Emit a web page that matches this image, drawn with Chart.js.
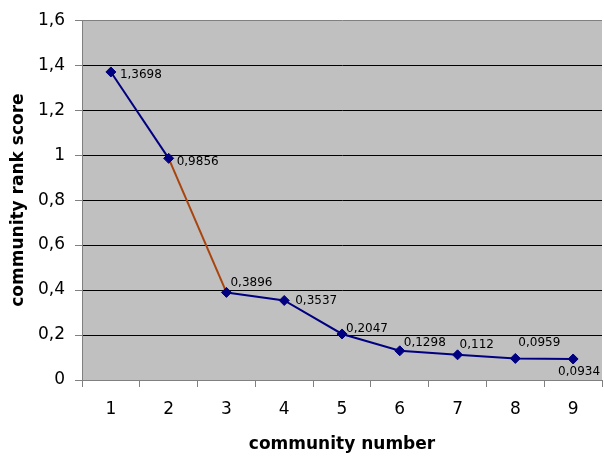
<!DOCTYPE html>
<html>
<head>
<meta charset="utf-8">
<script src="https://cdn.jsdelivr.net/npm/chart.js@4.4.1/dist/chart.umd.min.js"></script>
<style>
  html, body { margin: 0; padding: 0; background: #fff; overflow: hidden; width: 604px; height: 456px; }
  canvas { display: block; }
</style>
</head>
<body>
<canvas id="c" width="608" height="456"></canvas>
<script>
// Community numbers and their rank scores
const communities = ['1', '2', '3', '4', '5', '6', '7', '8', '9'];
const rankScores = [1.3698, 0.9856, 0.3896, 0.3537, 0.2047, 0.1298, 0.112, 0.0959, 0.0934];
const yTickLabels = ['0', '0,2', '0,4', '0,6', '0,8', '1', '1,2', '1,4', '1,6'];

// Segment drawn in brown (from community 2 to community 3)
const brownSegment = 1;

// Offsets of each value label from its marker (dx, dy)
const labelOffsets = [[9, 2], [8, 3], [4, -10], [11, 0], [4, -6], [4, -9], [2, -11], [3, -16], [-15, 12]];

const FONT = "'DejaVu Sans', sans-serif";
const AXIS_GRAY = '#808080';

const plotBackground = {
  id: 'plotBackground',
  beforeDraw(chart) {
    const { ctx, chartArea: a } = chart;
    ctx.save();
    ctx.fillStyle = '#c0c0c0';
    ctx.fillRect(a.left, a.top, a.right - a.left, a.bottom - a.top);
    ctx.restore();
  }
};

const valueLabels = {
  id: 'valueLabels',
  afterDatasetsDraw(chart) {
    const { ctx } = chart;
    const meta = chart.getDatasetMeta(0);
    ctx.save();
    ctx.font = '12px ' + FONT;
    ctx.fillStyle = '#000';
    ctx.textAlign = 'left';
    ctx.textBaseline = 'alphabetic';
    meta.data.forEach((pt, i) => {
      const text = String(rankScores[i]).replace('.', ',');
      const [dx, dy] = labelOffsets[i];
      ctx.fillText(text, pt.x + dx, pt.y + dy + 4);
    });
    ctx.restore();
  }
};

new Chart(document.getElementById('c'), {
  type: 'line',
  data: {
    labels: communities,
    datasets: [{
      data: rankScores,
      borderColor: '#000080',
      borderWidth: 2,
      backgroundColor: '#000080',
      pointStyle: 'rectRot',
      pointRadius: 5,
      pointBorderWidth: 1,
      pointBackgroundColor: '#000080',
      pointBorderColor: '#000080',
      tension: 0,
      fill: false,
      segment: {
        borderColor: ctx => ctx.p0DataIndex === brownSegment ? '#a8440e' : '#000080'
      }
    }]
  },
  options: {
    responsive: false,
    animation: false,
    devicePixelRatio: 1,
    layout: { padding: { top: 17, right: 1, left: 0, bottom: 0 } },
    plugins: {
      legend: { display: false },
      tooltip: { enabled: false }
    },
    scales: {
      x: {
        type: 'category',
        offset: true,
        grid: {
          drawOnChartArea: false,
          drawTicks: true,
          offset: true,
          tickLength: 7,
          tickColor: AXIS_GRAY,
          color: AXIS_GRAY
        },
        border: { display: true, color: AXIS_GRAY, width: 1 },
        ticks: {
          color: '#000',
          font: { family: FONT, size: 17 },
          padding: 12,
          maxRotation: 0
        },
        title: {
          display: true,
          text: 'community number',
          color: '#000',
          font: { family: FONT, size: 17, weight: 'bold' },
          padding: { top: 0, bottom: 1 }
        },
        afterFit(scale) { scale.height = 76; }
      },
      y: {
        min: 0,
        max: 1.6,
        grid: {
          drawTicks: true,
          tickLength: 7,
          tickColor: AXIS_GRAY,
          color: c => (c.tick && (c.tick.value >= 1.59 || c.tick.value === 0)) ? AXIS_GRAY : '#000',
          lineWidth: 1
        },
        border: { display: true, color: AXIS_GRAY, width: 1 },
        ticks: {
          stepSize: 0.2,
          color: '#000',
          font: { family: FONT, size: 17 },
          padding: 10,
          callback: (v, i) => yTickLabels[i]
        },
        title: {
          display: true,
          text: 'community rank score',
          color: '#000',
          font: { family: FONT, size: 17, weight: 'bold' },
          padding: { top: 8, bottom: 0 }
        },
        afterFit(scale) { scale.width = 82; }
      }
    }
  },
  plugins: [plotBackground, valueLabels]
});
</script>
</body>
</html>
